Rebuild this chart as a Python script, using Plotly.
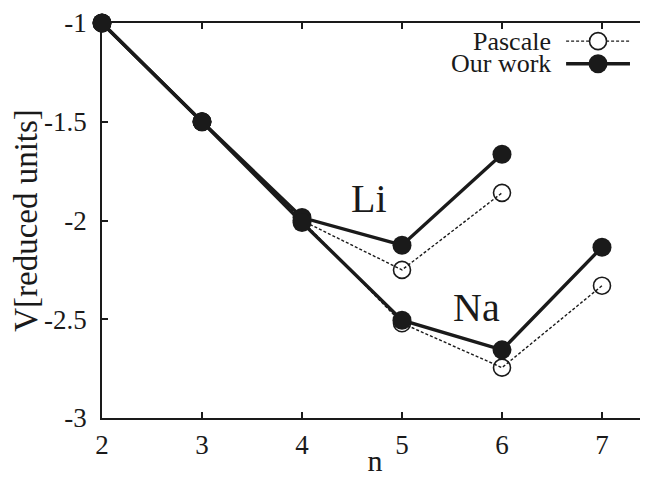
import plotly.graph_objects as go

# ---- data ----
n_li = [2, 3, 4, 5, 6]
our_li = [-1.0, -1.5, -1.985, -2.125, -1.665]
pas_li = [-1.0, -1.5, -2.0, -2.25, -1.86]

n_na = [2, 3, 4, 5, 6, 7]
our_na = [-1.0, -1.5, -2.01, -2.505, -2.655, -2.135]
pas_na = [-1.0, -1.5, -2.0, -2.52, -2.745, -2.33]

x_ticks = [2, 3, 4, 5, 6, 7]
x_ticktext = ["2", "3", "4", "5", "6", "7"]
y_ticks = [-3, -2.5, -2, -1.5, -1]
y_ticktext = ["-3", "-2.5", "-2", "-1.5", "-1"]

labels = ["Li", "Na"]
label_x = [4.67, 5.74]
label_y = [-1.89, -2.44]

legend_names = ["Pascale", "Our work"]

FONT = "Liberation Serif"
INK = "#1a1a1a"

fig = go.Figure()

pas_style = dict(mode="lines+markers", cliponaxis=False,
                 line=dict(color=INK, width=1.4, dash="3px,2px"),
                 marker=dict(symbol="circle-open", size=17, color=INK,
                             line=dict(width=1.6, color=INK)),
                 showlegend=False, hoverinfo="skip")
our_style = dict(mode="lines+markers", cliponaxis=False,
                 line=dict(color=INK, width=3.4),
                 marker=dict(symbol="circle", size=19, color=INK),
                 showlegend=False, hoverinfo="skip")

fig.add_trace(go.Scatter(x=n_li, y=pas_li, name=legend_names[0], **pas_style))
fig.add_trace(go.Scatter(x=n_na, y=pas_na, name=legend_names[0], **pas_style))
fig.add_trace(go.Scatter(x=n_li, y=our_li, name=legend_names[1], **our_style))
fig.add_trace(go.Scatter(x=n_na, y=our_na, name=legend_names[1], **our_style))

for t, xx, yy in zip(labels, label_x, label_y):
    fig.add_annotation(x=xx, y=yy, text=t, showarrow=False,
                       font=dict(family=FONT, size=40, color=INK))

# ---- hand-made legend (text on the left, key on the right) ----
leg_rows = [0.954, 0.897]
key_x0, key_x1, key_xm, text_x = 0.850, 0.967, 0.9085, 0.826
for i, (name, yy) in enumerate(zip(legend_names, leg_rows)):
    fig.add_annotation(xref="paper", yref="paper", x=text_x, y=yy,
                       xanchor="right", yanchor="middle", text=name,
                       showarrow=False,
                       font=dict(family=FONT, size=26, color=INK))
    if i == 0:
        fig.add_shape(type="line", xref="paper", yref="paper",
                      x0=key_x0, x1=key_x1, y0=yy, y1=yy,
                      line=dict(color=INK, width=1.4, dash="3px,2px"))
        fig.add_shape(type="circle", xref="paper", yref="paper",
                      xsizemode="pixel", ysizemode="pixel",
                      xanchor=key_xm, yanchor=yy,
                      x0=-8.5, x1=8.5, y0=-8.5, y1=8.5,
                      line=dict(color=INK, width=1.6), fillcolor="white")
    else:
        fig.add_shape(type="line", xref="paper", yref="paper",
                      x0=key_x0, x1=key_x1, y0=yy, y1=yy,
                      line=dict(color=INK, width=3.4))
        fig.add_shape(type="circle", xref="paper", yref="paper",
                      xsizemode="pixel", ysizemode="pixel",
                      xanchor=key_xm, yanchor=yy,
                      x0=-9.5, x1=9.5, y0=-9.5, y1=9.5,
                      line=dict(color=INK, width=0), fillcolor=INK)

axis_common = dict(showgrid=False, zeroline=False, showline=True,
                   linecolor=INK, linewidth=1.5, mirror="ticks",
                   ticks="inside", ticklen=6, tickwidth=1.5, tickcolor=INK,
                   automargin=False,
                   tickfont=dict(family=FONT, size=27, color=INK))

# page body has an 8px margin, so the figure is 640x469 and shifted
fig.update_layout(
    width=640, height=469,
    margin=dict(l=94, r=0, t=15, b=59),
    paper_bgcolor="white", plot_bgcolor="white",
    showlegend=False,
    font=dict(family=FONT, color=INK),
    xaxis=dict(range=[2, 7.46], tickvals=x_ticks, ticktext=x_ticktext,
               ticklabelstandoff=2,
               title=dict(text="n", font=dict(family=FONT, size=30, color=INK),
                          standoff=0),
               **axis_common),
    yaxis=dict(range=[-3, -1], tickvals=y_ticks, ticktext=y_ticktext,
               ticklabelstandoff=8,
               title=dict(text="V[reduced units]",
                          font=dict(family=FONT, size=33, color=INK),
                          standoff=1),
               **axis_common),
)

fig.write_html("out.html")
